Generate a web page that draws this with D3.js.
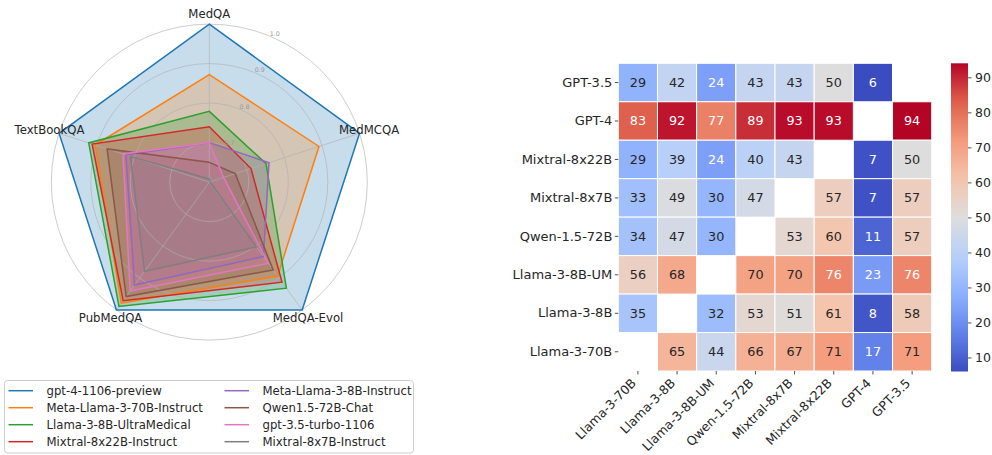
<!DOCTYPE html>
<html>
<head>
<meta charset="utf-8">
<script src="https://cdn.jsdelivr.net/npm/d3@7"></script>
<style>
  body { margin: 0; background: #fff; }
  text { font-family: "DejaVu Sans", sans-serif; }
</style>
</head>
<body>
<div id="chart"></div>
<script>
// ---- radar data (normalised, gpt-4 = 1.0) ----
var radarAxes = ["MedQA", "MedMCQA", "MedQA-Evol", "PubMedQA", "TextBookQA"];
var radarModels = ["gpt-4-1106-preview", "Meta-Llama-3-70B-Instruct", "Llama-3-8B-UltraMedical",
  "Mixtral-8x22B-Instruct", "Meta-Llama-3-8B-Instruct", "Qwen1.5-72B-Chat",
  "gpt-3.5-turbo-1106", "Mixtral-8x7B-Instruct"];
var radarColors = ["#1f77b4", "#ff7f0e", "#2ca02c", "#d62728", "#9467bd", "#8c564b", "#e377c2", "#7f7f7f"];

var scoresGpt4         = [1.000, 1.000, 1.000, 1.000, 1.000];
var scoresLlama70B     = [0.872, 0.892, 0.894, 0.979, 0.904];
var scoresUltraMedical = [0.779, 0.751, 0.932, 0.989, 0.921];
var scoresMixtral8x22B = [0.740, 0.711, 0.913, 0.971, 0.912];
var scoresLlama8B      = [0.700, 0.759, 0.833, 0.922, 0.822];
var scoresQwen72B      = [0.650, 0.669, 0.875, 0.958, 0.872];
var scoresGpt35        = [0.700, 0.638, 0.854, 0.941, 0.830];
var scoresMixtral8x7B  = [0.608, 0.602, 0.803, 0.879, 0.810];
var radarScores = [scoresGpt4, scoresLlama70B, scoresUltraMedical, scoresMixtral8x22B,
  scoresLlama8B, scoresQwen72B, scoresGpt35, scoresMixtral8x7B];
var radarTicks = [0.6, 0.7, 0.8, 0.9, 1.0];

// ---- heatmap data ----
var hmRows = ["GPT-3.5", "GPT-4", "Mixtral-8x22B", "Mixtral-8x7B", "Qwen-1.5-72B", "Llama-3-8B-UM", "Llama-3-8B", "Llama-3-70B"];
var hmCols = ["Llama-3-70B", "Llama-3-8B", "Llama-3-8B-UM", "Qwen-1.5-72B", "Mixtral-8x7B", "Mixtral-8x22B", "GPT-4", "GPT-3.5"];
var rowGpt35       = [29, 42, 24, 43, 43, 50, 6, null];
var rowGpt4        = [83, 92, 77, 89, 93, 93, null, 94];
var rowMixtral8x22 = [29, 39, 24, 40, 43, null, 7, 50];
var rowMixtral8x7  = [33, 49, 30, 47, null, 57, 7, 57];
var rowQwen72      = [34, 47, 30, null, 53, 60, 11, 57];
var rowLlama8UM    = [56, 68, null, 70, 70, 76, 23, 76];
var rowLlama8      = [35, null, 32, 53, 51, 61, 8, 58];
var rowLlama70     = [null, 65, 44, 66, 67, 71, 17, 71];
var hmValues = [rowGpt35, rowGpt4, rowMixtral8x22, rowMixtral8x7, rowQwen72, rowLlama8UM, rowLlama8, rowLlama70];
var cbarTicks = [10, 20, 30, 40, 50, 60, 70, 80, 90];

// coolwarm colormap stops
var coolwarm = ["#3b4cc0", "#6282ea", "#8db0fe", "#b8d0f9", "#dddddd", "#f5c4ac", "#f49a7b", "#de604d", "#b40426"];

var textColor = "#262626";

var svg = d3.select("#chart").append("svg")
  .attr("width", 992)
  .attr("height", 455);

// ================= Radar =================
var cx = 209.3, cy = 182.1, R = 158;
var rScale = d3.scaleLinear().domain([0.6, 1.0]).range([0, R]);
var angle = d3.scaleLinear().domain([0, radarAxes.length]).range([0, 2 * Math.PI]);

var radar = svg.append("g").attr("transform", "translate(" + cx + "," + cy + ")");

var radarLine = d3.lineRadial()
  .angle(function(d, i) { return angle(i); })
  .radius(function(d) { return rScale(d); })
  .curve(d3.curveLinearClosed);

// fills first
radar.selectAll(".fill")
  .data(radarScores)
  .enter().append("path")
    .attr("class", "fill")
    .attr("d", radarLine)
    .attr("fill", function(d, i) { return radarColors[i]; })
    .attr("fill-opacity", 0.25)
    .attr("stroke", "none");

// grid on top of fills
radar.selectAll(".ring")
  .data(radarTicks.slice(1))
  .enter().append("circle")
    .attr("class", "ring")
    .attr("r", function(d) { return rScale(d); })
    .attr("fill", "none")
    .attr("stroke", "#b0b0b0")
    .attr("stroke-opacity", 0.7)
    .attr("stroke-width", 0.9);

radar.selectAll(".spoke")
  .data(radarAxes)
  .enter().append("line")
    .attr("class", "spoke")
    .attr("x1", 0).attr("y1", 0)
    .attr("x2", function(d, i) { return R * Math.sin(angle(i)); })
    .attr("y2", function(d, i) { return -R * Math.cos(angle(i)); })
    .attr("stroke", "#b0b0b0")
    .attr("stroke-opacity", 0.7)
    .attr("stroke-width", 0.9);

// lines
radar.selectAll(".outline")
  .data(radarScores)
  .enter().append("path")
    .attr("class", "outline")
    .attr("d", radarLine)
    .attr("fill", "none")
    .attr("stroke", function(d, i) { return radarColors[i]; })
    .attr("stroke-width", 1.5)
    .attr("stroke-linejoin", "miter");

// radial tick labels
var labelAngle = 22.5 * Math.PI / 180;
radar.selectAll(".rlabel")
  .data(radarTicks)
  .enter().append("text")
    .attr("class", "rlabel")
    .attr("x", function(d) { return rScale(d) * Math.sin(labelAngle); })
    .attr("y", function(d) { return -rScale(d) * Math.cos(labelAngle) - 0.5; })
    .attr("font-size", 6.3)
    .attr("fill", "#999999")
    .text(function(d) { return d3.format(".1f")(d); });

// axis names
radar.selectAll(".axisName")
  .data(radarAxes)
  .enter().append("text")
    .attr("class", "axisName")
    .attr("x", function(d, i) { return (R + 10) * Math.sin(angle(i)); })
    .attr("y", function(d, i) { return -(R + 10) * Math.cos(angle(i)); })
    .attr("text-anchor", "middle")
    .attr("dominant-baseline", "central")
    .attr("font-size", 11.7)
    .attr("fill", textColor)
    .text(function(d) { return d; });

// legend
var legend = svg.append("g").attr("transform", "translate(4.5,380.5)");
legend.append("rect")
  .attr("width", 409)
  .attr("height", 72.5)
  .attr("rx", 3)
  .attr("fill", "#fff")
  .attr("stroke", "#cccccc")
  .attr("stroke-width", 1);

var legItem = legend.selectAll(".item")
  .data(radarModels)
  .enter().append("g")
    .attr("class", "item")
    .attr("transform", function(d, i) {
      var col = Math.floor(i / 4), row = i % 4;
      return "translate(" + (4 + col * 216) + "," + (10.2 + row * 17) + ")";
    });

legItem.append("line")
  .attr("x1", 0).attr("x2", 24.5)
  .attr("stroke", function(d, i) { return radarColors[i]; })
  .attr("stroke-width", 1.5);

legItem.append("text")
  .attr("x", 38)
  .attr("dominant-baseline", "central")
  .attr("font-size", 11.7)
  .attr("fill", textColor)
  .text(function(d) { return d; });

// ================= Heatmap =================
var x = d3.scaleBand().domain(hmCols).range([618.3, 931.7]);
var y = d3.scaleBand().domain(hmRows).range([63.3, 371]);

var vmin = 6, vmax = 94;
var cmap = d3.scaleLinear()
  .domain(coolwarm.map(function(c, i) { return i / (coolwarm.length - 1); }))
  .range(coolwarm);
var norm = d3.scaleLinear().domain([vmin, vmax]).range([0, 1]).clamp(true);
function colorOf(v) { return cmap(norm(v)); }

function luminance(c) {
  var rgb = d3.rgb(c);
  var lin = [rgb.r, rgb.g, rgb.b].map(function(v) {
    v = v / 255;
    return v <= 0.03928 ? v / 12.92 : Math.pow((v + 0.055) / 1.055, 2.4);
  });
  return 0.2126 * lin[0] + 0.7152 * lin[1] + 0.0722 * lin[2];
}

var cells = [];
hmValues.forEach(function(row, ri) {
  row.forEach(function(v, ci) {
    if (v !== null) cells.push({ row: hmRows[ri], col: hmCols[ci], value: v });
  });
});

var heat = svg.append("g");

heat.selectAll("rect")
  .data(cells)
  .enter().append("rect")
    .attr("x", function(d) { return x(d.col); })
    .attr("y", function(d) { return y(d.row); })
    .attr("width", x.bandwidth())
    .attr("height", y.bandwidth())
    .attr("fill", function(d) { return colorOf(d.value); })
    .attr("stroke", "#fff")
    .attr("stroke-width", 1);

heat.selectAll(".annot")
  .data(cells)
  .enter().append("text")
    .attr("class", "annot")
    .attr("x", function(d) { return x(d.col) + x.bandwidth() / 2; })
    .attr("y", function(d) { return y(d.row) + y.bandwidth() / 2; })
    .attr("text-anchor", "middle")
    .attr("dominant-baseline", "central")
    .attr("font-size", 12.8)
    .attr("fill", function(d) { return luminance(colorOf(d.value)) > 0.408 ? textColor : "#ffffff"; })
    .text(function(d) { return d.value; });

// y axis
var yAxisG = svg.append("g")
  .attr("transform", "translate(618.3,0)")
  .call(d3.axisLeft(y).tickSize(3.5).tickPadding(2.5));
yAxisG.select(".domain").remove();
yAxisG.selectAll("line").attr("stroke", textColor).attr("stroke-width", 0.8);
yAxisG.selectAll("text")
  .attr("font-size", 13)
  .attr("fill", textColor);

// x axis
var xAxisG = svg.append("g")
  .attr("transform", "translate(0,371)")
  .call(d3.axisBottom(x).tickSize(3.5).tickPadding(3.5));
xAxisG.select(".domain").remove();
xAxisG.selectAll("line").attr("stroke", textColor).attr("stroke-width", 0.8);
xAxisG.selectAll("text")
  .attr("font-size", 12.5)
  .attr("fill", textColor)
  .attr("x", 0).attr("y", 0).attr("dy", null)
  .attr("text-anchor", "end")
  .attr("transform", "translate(-1,13) rotate(-45)");

// colorbar
var cbX = 951, cbW = 17, cbTop = 63.3, cbBot = 371.5;
var defs = svg.append("defs");
var grad = defs.append("linearGradient")
  .attr("id", "cbgrad")
  .attr("x1", "0").attr("y1", "1").attr("x2", "0").attr("y2", "0");
d3.range(0, 1.0001, 0.05).forEach(function(t) {
  grad.append("stop").attr("offset", t).attr("stop-color", cmap(t));
});
svg.append("rect")
  .attr("x", cbX).attr("y", cbTop)
  .attr("width", cbW).attr("height", cbBot - cbTop)
  .attr("fill", "url(#cbgrad)");

var cbScale = d3.scaleLinear().domain([vmin, vmax]).range([cbBot, cbTop]);
var cbAxisG = svg.append("g")
  .attr("transform", "translate(" + (cbX + cbW) + ",0)")
  .call(d3.axisRight(cbScale).tickValues(cbarTicks).tickSize(3.5).tickPadding(3.5));
cbAxisG.select(".domain").remove();
cbAxisG.selectAll("line").attr("stroke", textColor).attr("stroke-width", 0.8);
cbAxisG.selectAll("text")
  .attr("font-size", 12.5)
  .attr("fill", textColor);
</script>
</body>
</html>
